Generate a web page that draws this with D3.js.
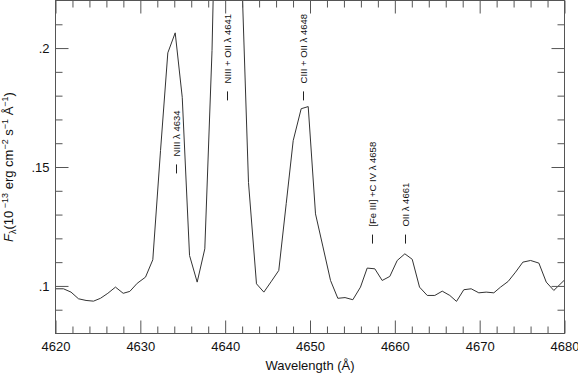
<!DOCTYPE html>
<html><head><meta charset="utf-8">
<script src="https://cdn.jsdelivr.net/npm/d3@7"></script>
<style>
body{margin:0;background:#fff}
svg{display:block}
text{font-family:"Liberation Sans",Arial,Helvetica,sans-serif;fill:#111}
</style>
</head><body>
<svg id="chart" width="578" height="373"></svg>
<script>
// ---- data ----
const wavelength = [4620.06,4620.94,4621.83,4622.71,4623.60,4624.48,4625.30,4626.17,4627.07,4627.98,
  4628.76,4629.63,4630.61,4631.47,4632.38,4633.24,4634.11,4634.94,4635.80,4636.70,
  4637.60,4638.45,4639.33,4640.22,4641.10,4641.99,4642.75,4643.69,4644.56,4645.46,
  4646.32,4647.20,4648.02,4648.96,4649.79,4650.65,4651.53,4652.42,4653.28,4654.13,
  4655.05,4655.95,4656.74,4657.64,4658.51,4659.41,4660.28,4661.18,4662.05,4662.91,
  4663.82,4664.71,4665.59,4666.48,4667.27,4668.13,4669.00,4669.90,4670.77,4671.67,
  4672.46,4673.36,4674.23,4675.09,4676.00,4676.98,4677.85,4678.74,4680.00];
const flux = [0.0988,0.0988,0.0974,0.0946,0.0939,0.0936,0.0948,0.0969,0.0995,0.0969,
  0.0977,0.1011,0.1037,0.1110,0.1569,0.1980,0.2064,0.1793,0.1128,0.1016,
  0.1156,0.1990,0.3400,0.4000,0.3300,0.2267,0.1435,0.1009,0.0974,0.1020,
  0.1065,0.1347,0.1611,0.1745,0.1754,0.1303,0.1164,0.1023,0.0948,0.0951,
  0.0942,0.0995,0.1075,0.1072,0.1023,0.1040,0.1107,0.1135,0.1112,0.0995,
  0.0960,0.0960,0.0978,0.0960,0.0935,0.0984,0.0988,0.0971,0.0974,0.0971,
  0.0995,0.1019,0.1058,0.1100,0.1107,0.1096,0.1016,0.0981,0.1025];

const xMajorTicks = [4620,4630,4640,4650,4660,4670,4680];
const xMinorTicks = d3.range(4622,4680,2).filter(v => v % 10 !== 0);
const yMajorTicks = [0.1,0.15,0.2];
const yMinorTicks = [0.09,0.11,0.12,0.13,0.14,0.16,0.17,0.18,0.19,0.21];

const lineLabels = ["NIII \u03BB 4634","NIII + OII \u03BB 4641","CIII + OII \u03BB 4648","[Fe III] +C IV \u03BB 4658","OII \u03BB 4661"];
const labelWavelength = [4634.15,4640.16,4649.23,4657.25,4661.14];
const labelFlux = [0.1473,0.1780,0.1780,0.1178,0.1178];

// ---- layout ----
const svg = d3.select("#chart");
const L = 55.5, R = 564.5, T = 0.5, B = 333.5;
const x = d3.scaleLinear().domain([4620,4680]).range([L,R]);
const y = d3.scaleLinear().domain([0.08,0.22]).range([B,T]);
const frameColor = "#555";

svg.append("defs").append("clipPath").attr("id","plotclip")
  .append("rect").attr("x",L).attr("y",T).attr("width",R-L).attr("height",B-T);

// data line
svg.append("path")
  .datum(wavelength.map((w,i)=>[w,flux[i]]))
  .attr("clip-path","url(#plotclip)")
  .attr("fill","none").attr("stroke","#333").attr("stroke-width",1)
  .attr("d", d3.line().x(d=>x(d[0])).y(d=>y(d[1])));

// axes helpers
function styleAxis(g){
  g.select(".domain").remove();
  g.selectAll(".tick line").attr("stroke",frameColor);
  g.selectAll("text").attr("font-size",13).attr("fill","#111")
   .attr("font-family","Liberation Sans, Arial, sans-serif");
}
const yfmt = d => d3.format(".2~f")(d).replace(/^0/,"");

// bottom
svg.append("g").attr("transform",`translate(0,${B})`)
  .call(d3.axisBottom(x).tickValues(xMajorTicks).tickSize(-13).tickPadding(8).tickFormat(d3.format("d")))
  .call(styleAxis);
svg.append("g").attr("transform",`translate(0,${B})`)
  .call(d3.axisBottom(x).tickValues(xMinorTicks).tickSize(-7).tickFormat(""))
  .call(styleAxis);
// top
svg.append("g").attr("transform",`translate(0,${T})`)
  .call(d3.axisTop(x).tickValues(xMajorTicks).tickSize(-13).tickFormat(""))
  .call(styleAxis);
svg.append("g").attr("transform",`translate(0,${T})`)
  .call(d3.axisTop(x).tickValues(xMinorTicks).tickSize(-7).tickFormat(""))
  .call(styleAxis);
// left
svg.append("g").attr("transform",`translate(${L},0)`)
  .call(d3.axisLeft(y).tickValues(yMajorTicks).tickSize(-13).tickPadding(6).tickFormat(yfmt))
  .call(styleAxis);
svg.append("g").attr("transform",`translate(${L},0)`)
  .call(d3.axisLeft(y).tickValues(yMinorTicks).tickSize(-7).tickFormat(""))
  .call(styleAxis);
// right
svg.append("g").attr("transform",`translate(${R},0)`)
  .call(d3.axisRight(y).tickValues(yMajorTicks).tickSize(-13).tickFormat(""))
  .call(styleAxis);
svg.append("g").attr("transform",`translate(${R},0)`)
  .call(d3.axisRight(y).tickValues(yMinorTicks).tickSize(-7).tickFormat(""))
  .call(styleAxis);

// frame
svg.append("rect").attr("x",L).attr("y",T).attr("width",R-L).attr("height",B-T)
  .attr("fill","none").attr("stroke",frameColor).attr("stroke-width",1);

// line identifications
const lab = svg.append("g");
lineLabels.forEach((t,i)=>{
  const px = Math.round(x(labelWavelength[i]))+0.5, py = y(labelFlux[i]);
  lab.append("line").attr("x1",px).attr("x2",px).attr("y1",py).attr("y2",py-9)
    .attr("stroke","#222").attr("stroke-width",1);
  lab.append("text").attr("transform",`translate(${px+3.5},${py-17}) rotate(-90)`)
    .attr("font-size",9.5).attr("text-anchor","start").text(t);
});

// axis titles
svg.append("text").attr("x",(L+R)/2).attr("y",370).attr("text-anchor","middle")
  .attr("font-size",13).text("Wavelength (\u00C5)");

const yt = svg.append("text").attr("transform",`translate(13,${(T+B)/2}) rotate(-90)`)
  .attr("text-anchor","middle").attr("font-size",13);
yt.append("tspan").attr("font-style","italic").text("F");
yt.append("tspan").attr("font-size",9).attr("dy",3).text("\u03BB");
yt.append("tspan").attr("dy",-3).text("(10");
yt.append("tspan").attr("font-size",9).attr("dy",-5).text(" \u221213");
yt.append("tspan").attr("dy",5).text(" erg cm");
yt.append("tspan").attr("font-size",9).attr("dy",-5).text("\u22122");
yt.append("tspan").attr("dy",5).text(" s");
yt.append("tspan").attr("font-size",9).attr("dy",-5).text("\u22121");
yt.append("tspan").attr("dy",5).text(" \u00C5");
yt.append("tspan").attr("font-size",9).attr("dy",-5).text("\u22121");
yt.append("tspan").attr("dy",5).text(")");
</script>
</body></html>
